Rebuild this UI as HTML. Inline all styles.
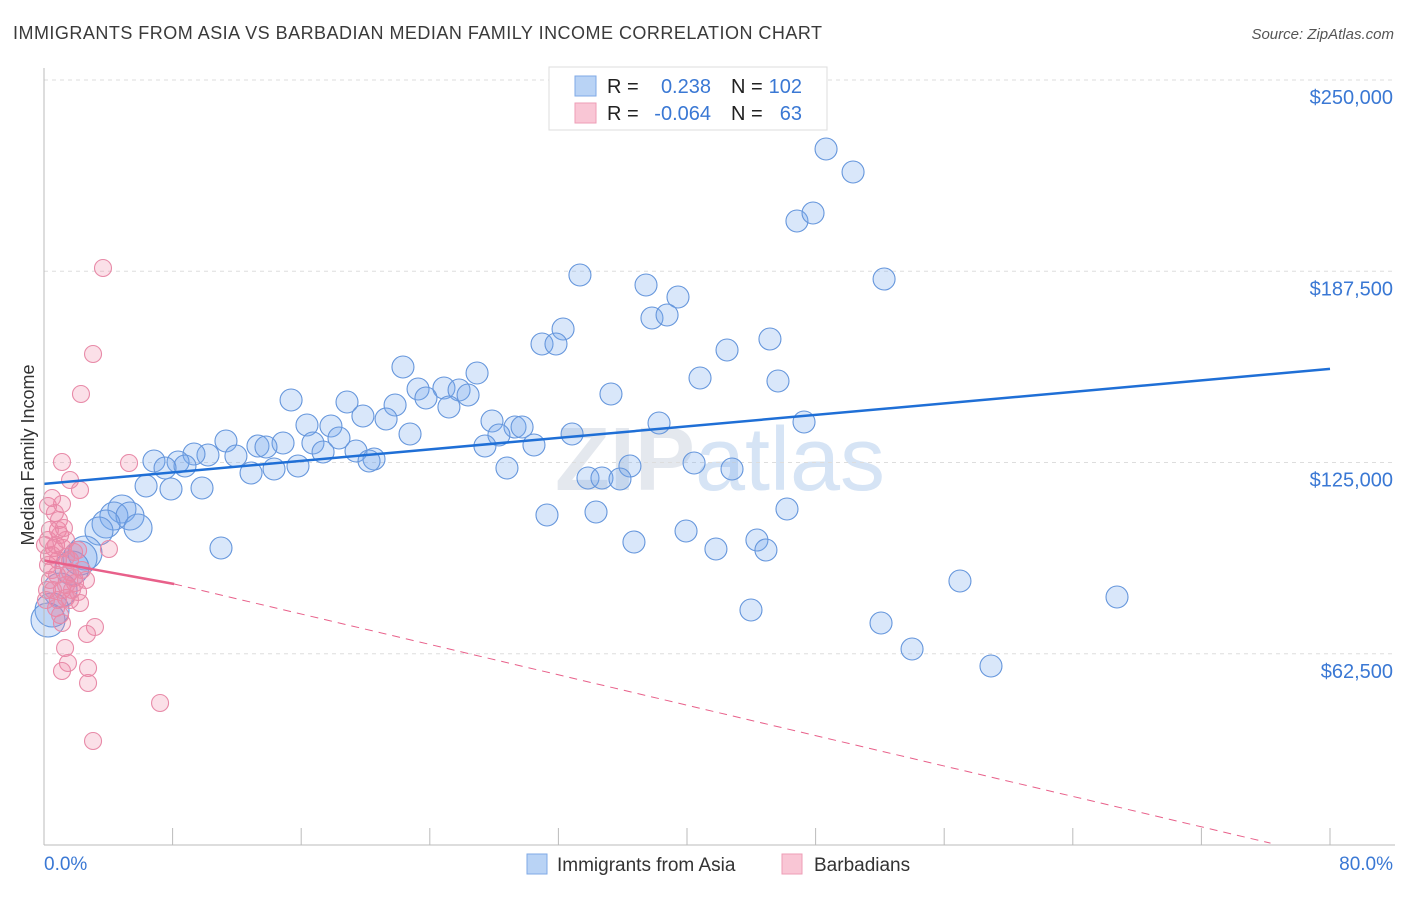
<!DOCTYPE html>
<html><head><meta charset="utf-8"><style>
body{margin:0;background:#fff;font-family:"Liberation Sans",sans-serif;}
svg text{font-family:"Liberation Sans",sans-serif;}
</style></head><body>
<svg id="c" width="1406" height="892" xmlns="http://www.w3.org/2000/svg">
<text x="13" y="39" font-size="18" fill="#3a3a3a" textLength="809" lengthAdjust="spacing">IMMIGRANTS FROM ASIA VS BARBADIAN MEDIAN FAMILY INCOME CORRELATION CHART</text>
<text x="1394" y="39" font-size="15" fill="#555" font-style="italic" text-anchor="end">Source: ZipAtlas.com</text>
<text x="720" y="490" font-size="90" fill="#e4e8ee" text-anchor="middle" font-weight="bold">ZIP<tspan fill="#d6e4f5" font-weight="normal">atlas</tspan></text>
<g id="grid"></g>
<g id="pts"></g>
<g id="trend"></g>
<line x1="44" y1="68" x2="44" y2="845" stroke="#bbb"/>
<line x1="44" y1="845" x2="1395" y2="845" stroke="#bbb"/>
<text x="34" y="455" font-size="18" fill="#333" text-anchor="middle" transform="rotate(-90 34 455)">Median Family Income</text>
<text x="44" y="870" font-size="19" fill="#3a78d4">0.0%</text>
<text x="1393" y="870" font-size="19" fill="#3a78d4" text-anchor="end">80.0%</text>
<g>
<rect x="549" y="67" width="278" height="63" fill="#fff" stroke="#ddd"/>
<rect x="575" y="76" width="21" height="20" fill="#b9d3f5" stroke="#7fa9e6"/>
<rect x="575" y="103" width="21" height="20" fill="#f9c6d5" stroke="#ee9db6"/>
<text y="93" font-size="20" fill="#222"><tspan x="607">R =</tspan><tspan x="711" fill="#3a78d4" text-anchor="end">0.238</tspan><tspan x="731">N =</tspan><tspan x="802" fill="#3a78d4" text-anchor="end">102</tspan></text>
<text y="120" font-size="20" fill="#222"><tspan x="607">R =</tspan><tspan x="711" fill="#3a78d4" text-anchor="end">-0.064</tspan><tspan x="731">N =</tspan><tspan x="802" fill="#3a78d4" text-anchor="end">63</tspan></text>
</g>
<g>
<rect x="527" y="854" width="20" height="20" fill="#b9d3f5" stroke="#7fa9e6"/>
<text x="557" y="871" font-size="19" fill="#333">Immigrants from Asia</text>
<rect x="782" y="854" width="20" height="20" fill="#f9c6d5" stroke="#ee9db6"/>
<text x="814" y="871" font-size="19" fill="#333">Barbadians</text>
</g>
</svg>
<script>
const yTicks=[62500,125000,187500,250000];
const yTickLabels=["$62,500","$125,000","$187,500","$250,000"];
const xTicks=[0,8,16,24,32,40,48,56,64,72,80];
const asiaPx=[[826,149],[853,172],[797,221],[813,213],[580,275],[646,285],[678,297],[652,318],[667,315],[884,279],[563,329],[542,344],[556,344],[727,350],[770,339],[403,367],[477,373],[700,378],[778,381],[418,389],[444,388],[459,390],[468,395],[426,398],[449,407],[291,400],[347,402],[611,394],[395,405],[363,416],[386,419],[307,425],[331,426],[492,421],[515,427],[522,427],[659,423],[804,422],[410,434],[339,438],[499,435],[572,434],[226,441],[283,443],[258,446],[266,447],[313,443],[485,446],[534,445],[323,452],[356,451],[208,455],[236,456],[154,461],[194,454],[178,462],[185,466],[165,468],[374,459],[369,461],[251,473],[274,469],[298,466],[507,468],[630,466],[694,463],[732,469],[146,486],[171,489],[202,488],[588,478],[602,478],[620,479],[547,515],[596,512],[787,509],[122,509],[114,516],[130,516],[138,528],[106,524],[99,531],[686,531],[634,542],[716,549],[757,540],[766,550],[221,548],[960,581],[1117,597],[751,610],[881,623],[912,649],[991,666],[85,553],[80,558],[72,568],[60,590],[52,610],[48,620]];
const barbPx=[[103,268],[93,354],[81,394],[129,463],[62,462],[70,480],[80,490],[62,504],[48,506],[55,513],[58,530],[48,540],[56,545],[63,548],[109,549],[52,555],[66,557],[58,560],[48,565],[70,572],[74,578],[75,583],[62,590],[78,592],[66,598],[80,603],[56,608],[62,623],[95,627],[87,634],[65,648],[68,663],[62,671],[88,668],[88,683],[160,703],[93,741],[58,600],[52,570],[60,535],[70,560],[50,580],[47,590],[54,548],[49,556],[66,585],[72,590],[59,520],[52,498],[66,540],[74,552],[82,570],[57,575],[45,545],[64,528],[50,530],[70,600],[60,615],[78,550],[86,580],[53,590],[68,575],[46,600]];
const asiaPct=asiaPx.map(p=>+((p[0]-44)/1286*80).toFixed(2));
const asiaVal=asiaPx.map(p=>Math.round((845-p[1])*250000/765));
const barbPct=barbPx.map(p=>+((p[0]-44)/1286*80).toFixed(2));
const barbVal=barbPx.map(p=>Math.round((845-p[1])*250000/765));
const asiaTrend=[[0,118000],[80,155600]];
const barbTrend=[[0,93000],[8.1,85300],[76.3,600]];
const X=p=>44+p/80*1286, Y=v=>845-v/250000*765;
const NS="http://www.w3.org/2000/svg";
function mk(t,a,par){const e=document.createElementNS(NS,t);for(const k in a)e.setAttribute(k,a[k]);document.getElementById(par).appendChild(e);return e;}
yTicks.forEach((v,i)=>{
 const l=mk('line',{x1:44,x2:1395,y1:Y(v),y2:Y(v),stroke:'#ddd','stroke-dasharray':'4,4'},'grid');
 
 
 const t=mk('text',{x:1393,y:Y(v)+24,'font-size':20,fill:'#3a78d4','text-anchor':'end'},'grid');t.textContent=yTickLabels[i];
 
 
});
xTicks.forEach(p=>{
 const l=mk('line',{x1:X(p),x2:X(p),y1:828,y2:845,stroke:'#bbb'},'grid');
 
 
});
asiaPct.forEach((p,i)=>{
 const r=X(p)<140?(X(p)<90?17:14):11;
 const c=mk('circle',{cx:X(p),cy:Y(asiaVal[i]),r:r,fill:'rgba(120,168,238,0.28)',stroke:'#6596dc','stroke-width':1.1},'pts');
 
 
});
barbPct.forEach((p,i)=>{
 const c=mk('circle',{cx:X(p),cy:Y(barbVal[i]),r:8.5,fill:'rgba(240,130,165,0.25)',stroke:'#e88aa8','stroke-width':1.1},'pts');
 
 
});
const bl=mk('line',{x1:X(asiaTrend[0][0]),y1:Y(asiaTrend[0][1]),x2:X(asiaTrend[1][0]),y2:Y(asiaTrend[1][1]),stroke:'#1f6fd6','stroke-width':2.5},'trend');


const pl=mk('line',{x1:X(barbTrend[0][0]),y1:Y(barbTrend[0][1]),x2:X(barbTrend[1][0]),y2:Y(barbTrend[1][1]),stroke:'#e8608a','stroke-width':2.5},'trend');


const pd=mk('line',{x1:X(barbTrend[1][0]),y1:Y(barbTrend[1][1]),x2:X(barbTrend[2][0]),y2:Y(barbTrend[2][1]),stroke:'#e8608a','stroke-width':1,'stroke-dasharray':'8,6'},'trend');


</script>
</body></html>
